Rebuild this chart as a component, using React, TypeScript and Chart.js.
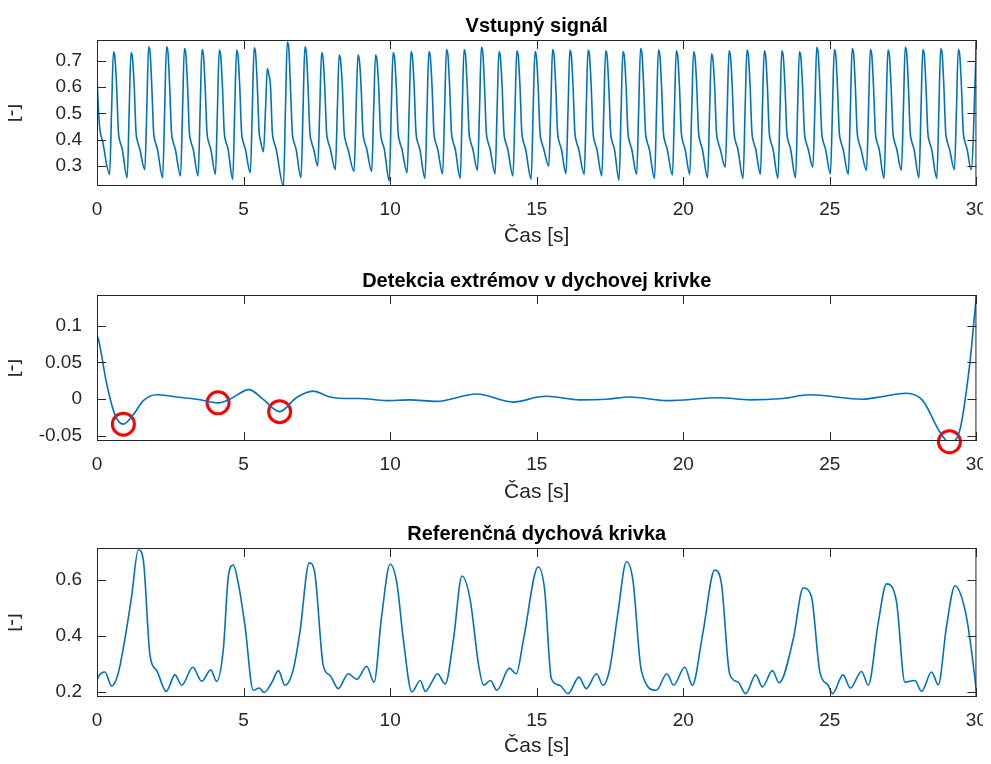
import React, { useEffect, useRef } from "react";
import { Chart, registerables } from "chart.js";
Chart.register(...registerables);

// ---- Data ----
const inputStart = [[0, 0.63], [0.08, 0.46], [0.2, 0.39]];
const inputPeakTimes = [0.56,1.16,1.76,2.37,2.98,3.58,4.17,4.76,5.36,5.81,6.49,7.09,7.66,8.26,8.90,9.50,10.10,10.71,11.32,11.92,12.52,13.11,13.71,14.32,14.94,15.54,16.13,16.75,17.35,17.94,18.54,19.15,19.76,20.35,20.96,21.56,22.17,22.76,23.36,23.96,24.55,25.15,25.76,26.38,26.98,27.57,28.17,28.78,29.38];
const inputPeakValues = [0.733,0.73,0.752,0.752,0.746,0.742,0.74,0.74,0.748,0.67,0.77,0.752,0.73,0.721,0.721,0.721,0.73,0.734,0.734,0.742,0.742,0.75,0.734,0.737,0.734,0.742,0.74,0.74,0.737,0.734,0.746,0.74,0.737,0.733,0.725,0.737,0.74,0.737,0.737,0.733,0.75,0.742,0.746,0.742,0.74,0.75,0.742,0.746,0.742];
const inputTroughValues = [0.269,0.256,0.287,0.256,0.263,0.263,0.269,0.25,0.275,0.355,0.225,0.256,0.30,0.287,0.28,0.28,0.244,0.275,0.254,0.271,0.254,0.284,0.271,0.263,0.25,0.30,0.271,0.269,0.263,0.247,0.269,0.254,0.266,0.269,0.256,0.296,0.254,0.269,0.254,0.256,0.296,0.271,0.269,0.284,0.254,0.284,0.256,0.254,0.287];
const inputEnd = [[29.82, 0.287], [30, 0.77]];
// rise and fall shape read around each peak: [offset s, value] (negative value = relative to peak)
const inputRise = [[-0.06, 0.52]];
const inputShoulder = [[0.05, -0.02], [0.11, 0.6], [0.17, 0.43], [0.22, 0.395], [0.3, 0.365]];

const breathT = [0,0.04,0.27,0.5,0.72,0.95,1.18,1.41,1.58,1.81,2.04,2.36,2.66,2.89,3.27,3.57,3.88,4.08,4.31,4.48,4.65,4.82,5.05,5.33,5.54,5.7,5.96,6.19,6.41,6.7,6.92,7.24,7.43,7.72,7.95,8.23,8.57,8.86,9.2,9.45,9.71,10.0,10.23,10.45,10.74,11.03,11.2,11.42,11.61,11.88,12.16,12.45,12.73,13.02,13.19,13.42,13.64,14.07,14.3,14.55,15.05,15.27,15.5,15.78,16.07,16.44,16.69,17.04,17.26,17.49,17.77,18.06,18.28,18.57,19.08,19.44,19.67,20.05,20.31,20.67,21.07,21.3,21.58,21.87,22.13,22.47,22.7,23.04,23.27,23.75,24.09,24.37,24.66,24.94,25.09,25.45,25.7,26.08,26.31,26.65,26.93,27.27,27.56,27.9,28.13,28.47,28.7,28.98,29.27,29.61,29.78,30];
const breathV = [0.24,0.253,0.271,0.221,0.265,0.388,0.541,0.708,0.671,0.329,0.276,0.202,0.261,0.224,0.288,0.238,0.279,0.238,0.353,0.612,0.653,0.588,0.435,0.206,0.214,0.198,0.233,0.276,0.224,0.282,0.412,0.661,0.624,0.294,0.259,0.212,0.265,0.245,0.292,0.235,0.471,0.656,0.588,0.388,0.2,0.241,0.202,0.235,0.265,0.229,0.388,0.614,0.529,0.294,0.224,0.241,0.206,0.285,0.265,0.388,0.646,0.565,0.247,0.224,0.194,0.253,0.212,0.265,0.224,0.282,0.482,0.665,0.6,0.276,0.206,0.265,0.224,0.288,0.224,0.412,0.635,0.588,0.265,0.235,0.194,0.261,0.218,0.276,0.233,0.388,0.571,0.541,0.271,0.224,0.194,0.261,0.214,0.273,0.224,0.447,0.586,0.524,0.235,0.241,0.202,0.271,0.226,0.435,0.579,0.494,0.388,0.205];

const extT = [0,0.04,0.33,0.61,0.9,1.24,1.58,2.03,2.71,3.4,4.13,4.53,5.19,5.66,6.23,6.8,7.37,7.94,8.4,8.96,9.88,10.67,11.58,12.95,14.2,15.05,15.33,16.47,17.38,18.17,19.43,21.24,22.27,23.4,24.31,26.13,26.7,27.6,28.17,28.74,29.08,29.42,29.76,30];
const extV = [0.086,0.083,0.021,-0.021,-0.034,-0.021,-0.002,0.006,0.003,0,-0.005,0,0.013,0,-0.017,0.002,0.011,0.003,0.001,0.001,-0.002,-0.001,-0.003,0.007,-0.004,0.003,0.004,-0.001,0,0.003,-0.002,0.002,-0.001,0.001,0.006,0,0.003,0.008,-0.002,-0.044,-0.059,-0.044,0.044,0.142];
const markT = [0.9, 4.13, 6.23, 29.08];
const markV = [-0.034, -0.005, -0.017, -0.058];

const xTicks = [0, 5, 10, 15, 20, 25, 30];

function buildInput() {
  const pts: { x: number; y: number }[] = inputStart.map(([x, y]) => ({ x, y }));
  for (let i = 0; i < inputPeakTimes.length; i++) {
    const tp = inputPeakTimes[i];
    const pk = inputPeakValues[i];
    const tr = inputTroughValues[i];
    pts.push({ x: tp - 0.13, y: tr });
    for (const [o, v] of inputRise) pts.push({ x: tp + o, y: Math.min(Math.max(v, tr + 0.05), pk - 0.05) });
    pts.push({ x: tp, y: pk });
    const next = i + 1 < inputPeakTimes.length ? inputTroughValues[i + 1] : inputEnd[0][1];
    const nextT = i + 1 < inputPeakTimes.length ? inputPeakTimes[i + 1] - 0.13 : inputEnd[0][0];
    for (const [o, v] of inputShoulder) {
      if (tp + o >= nextT - 0.05) break;
      const val = v < 0 ? pk + v : Math.max(v, next + 0.02);
      pts.push({ x: tp + o, y: val });
    }
  }
  inputEnd.forEach(([x, y]) => pts.push({ x, y }));
  return pts;
}

const FONT = "'Liberation Sans', Arial, sans-serif";
const TXT = "#262626";

const boxPlugin = {
  id: "box",
  afterDraw(chart: any) {
    const { ctx, chartArea: a, scales } = chart;
    const opts = chart.options.plugins.box;
    ctx.save();
    ctx.strokeStyle = TXT;
    ctx.lineWidth = 1;
    ctx.strokeRect(a.left + 0.5, a.top + 0.5, a.right - a.left - 1, a.bottom - a.top - 1);
    const L = 9;
    ctx.beginPath();
    for (const t of xTicks) {
      const px = Math.round(scales.x.getPixelForValue(t)) + 0.5;
      ctx.moveTo(px, a.bottom); ctx.lineTo(px, a.bottom - L);
      ctx.moveTo(px, a.top); ctx.lineTo(px, a.top + L);
    }
    for (const t of opts.yTicks) {
      const py = Math.round(scales.y.getPixelForValue(t)) + 0.5;
      ctx.moveTo(a.left, py); ctx.lineTo(a.left + L, py);
      ctx.moveTo(a.right, py); ctx.lineTo(a.right - L, py);
    }
    ctx.stroke();
    ctx.fillStyle = "#000";
    ctx.font = `bold 20px ${FONT}`;
    ctx.textAlign = "center";
    ctx.textBaseline = "bottom";
    ctx.fillText(opts.title, (a.left + a.right) / 2, a.top - 4);
    ctx.restore();
  },
};

function SubChart(props: any) {
  const ref = useRef<HTMLCanvasElement>(null);
  useEffect(() => {
    const { datasets, yMin, yMax, yTicks, title, padTop, xH, fmt } = props;
    const chart = new Chart(ref.current!, {
      type: "line",
      data: { datasets },
      plugins: [boxPlugin],
      options: {
        animation: false,
        responsive: false,
        maintainAspectRatio: false,
        layout: { padding: { top: padTop, right: 14, left: 0, bottom: 0 } },
        plugins: { legend: { display: false }, tooltip: { enabled: false }, box: { yTicks, title } } as any,
        scales: {
          x: {
            type: "linear", min: 0, max: 30,
            afterBuildTicks: (s: any) => { s.ticks = xTicks.map((v) => ({ value: v })); },
            afterFit: (s: any) => { s.height = xH; },
            grid: { display: false }, border: { display: false },
            ticks: { color: TXT, font: { family: FONT, size: 19 }, padding: 4, maxRotation: 0 },
            title: { display: true, text: "Čas [s]", color: TXT, font: { family: FONT, size: 21 }, padding: { top: 0, bottom: 5 } },
          },
          y: {
            type: "linear", min: yMin, max: yMax,
            afterBuildTicks: (s: any) => { s.ticks = yTicks.map((v: number) => ({ value: v })); },
            afterFit: (s: any) => { s.width = 97; },
            grid: { display: false }, border: { display: false },
            ticks: { color: TXT, font: { family: FONT, size: 19 }, padding: 7, callback: fmt },
            title: { display: true, text: "[-]", color: TXT, font: { family: FONT, size: 21 }, padding: { top: 0, bottom: 2 } },
          },
        },
      },
    });
    return () => chart.destroy();
  }, []);
  return (
    <div style={{ position: "absolute", left: 0, top: props.top, width: 991, height: props.h }}>
      <canvas ref={ref} width={991} height={props.h} style={{ width: 991, height: props.h }} />
    </div>
  );
}

const line = (data: any) => ({
  data, borderColor: "#0072BD", borderWidth: 1.6, pointRadius: 0, fill: false,
  cubicInterpolationMode: "monotone" as const, parsing: false as const,
});

export default function App() {
  const input = buildInput();
  const breath = breathT.map((x, i) => ({ x, y: breathV[i] }));
  const ext = extT.map((x, i) => ({ x, y: extV[i] }));
  const marks = markT.map((x, i) => ({ x, y: markV[i] }));
  return (
    <div style={{ position: "relative", width: 991, height: 764, margin: -8, background: "#fff", overflow: "hidden" }}>
      <SubChart top={0} h={254} padTop={40} xH={68} yMin={0.225} yMax={0.778}
        yTicks={[0.3, 0.4, 0.5, 0.6, 0.7]} title="Vstupný signál" fmt={(v: number) => v.toFixed(1)}
        datasets={[line(input)]} />
      <SubChart top={254} h={256} padTop={41} xH={69} yMin={-0.057} yMax={0.142}
        yTicks={[-0.05, 0, 0.05, 0.1]} title="Detekcia extrémov v dychovej krivke" fmt={(v: number) => String(Math.round(v * 100) / 100)}
        datasets={[line(ext), { data: marks, showLine: false, clip: false, pointRadius: 11, pointBorderWidth: 3, pointBorderColor: "#FF0000", pointBackgroundColor: "rgba(0,0,0,0)", parsing: false }]} />
      <SubChart top={510} h={254} padTop={38} xH={67} yMin={0.182} yMax={0.714}
        yTicks={[0.2, 0.4, 0.6]} title="Referenčná dychová krivka" fmt={(v: number) => v.toFixed(1)}
        datasets={[line(breath)]} />
    </div>
  );
}
